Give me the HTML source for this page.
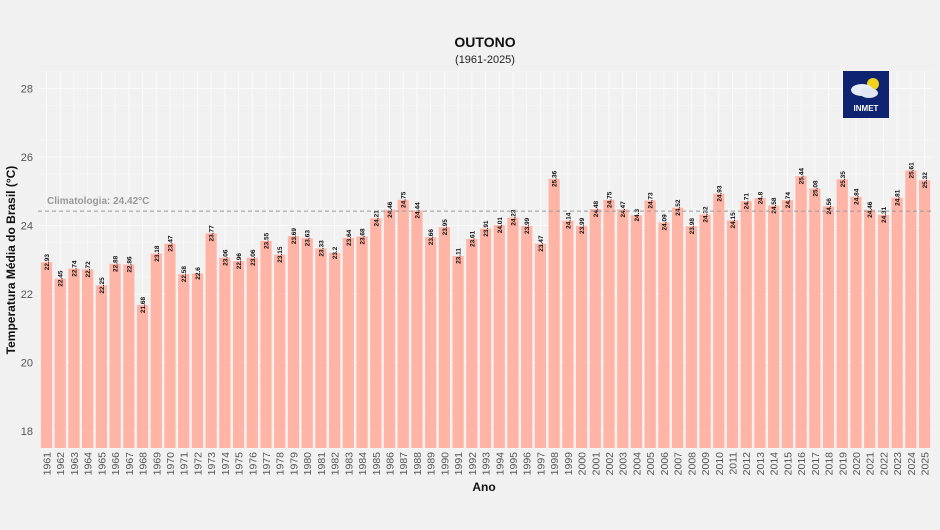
<!DOCTYPE html>
<html><head><meta charset="utf-8"><style>
html,body{margin:0;padding:0;background:#f1f1f1;}
svg{display:block;font-family:"Liberation Sans",sans-serif;}
</style></head><body>
<svg id="c" width="940" height="530" viewBox="0 0 940 530" xmlns="http://www.w3.org/2000/svg">
<rect width="940" height="530" fill="#f1f1f1"/>
<text x="485" y="47" text-anchor="middle" font-size="14" font-weight="bold" fill="#111">OUTONO</text>
<text x="485" y="63" text-anchor="middle" font-size="11" fill="#222">(1961-2025)</text>
<text x="484" y="491" text-anchor="middle" font-size="12" font-weight="bold" fill="#111">Ano</text>
<text transform="translate(15,260) rotate(-90)" text-anchor="middle" font-size="12" font-weight="bold" fill="#111">Temperatura Média do Brasil (°C)</text>
<g id="g"></g>
<rect x="843" y="71" width="46" height="47" fill="#0f2470"/>
<circle cx="873" cy="84" r="6" fill="#f4d21c"/>
<ellipse cx="862" cy="90" rx="11" ry="6" fill="#e8eef8"/>
<ellipse cx="869" cy="93" rx="9" ry="5" fill="#dfe7f4"/>
<text x="866" y="111" text-anchor="middle" font-size="8" font-weight="bold" fill="#fff">INMET</text>
</svg>
<script>
var v=[22.93,22.45,22.74,22.72,22.25,22.88,22.86,21.68,23.18,23.47,22.58,22.6,23.77,23.06,22.96,23.06,23.55,23.15,23.69,23.63,23.33,23.2,23.64,23.68,24.21,24.46,24.75,24.44,23.66,23.95,23.11,23.61,23.91,24.01,24.23,23.99,23.47,25.36,24.14,23.99,24.48,24.75,24.47,24.3,24.73,24.09,24.52,23.98,24.32,24.93,24.15,24.71,24.8,24.58,24.74,25.44,25.08,24.56,25.35,24.84,24.46,24.31,24.81,25.61,25.32];
function Y(t){return 294-(t-22)*34.25;}
var s='';
for(var t=17.5;t<=28.5;t+=1){var y=Y(t);s+='<line x1="38" x2="932" y1="'+y+'" y2="'+y+'" stroke="#f7f7f7" stroke-width="0.6"/>';}
for(var t=18;t<=28;t+=2){var y=Y(t);s+='<line x1="38" x2="932" y1="'+y+'" y2="'+y+'" stroke="#fafafa" stroke-width="1.1"/>';s+='<text x="33" y="'+(y+4)+'" text-anchor="end" font-size="11" fill="#555">'+t+'</text>';}
for(var i=0;i<v.length;i++){var x=46.5+i*13.72;s+='<line x1="'+x+'" x2="'+x+'" y1="72" y2="448" stroke="#fafafa" stroke-width="1"/>';}
for(var i=0;i<v.length;i++){var x=46.5+i*13.72,y=Y(v[i]);
s+='<rect x="'+(x-5.6)+'" y="'+y+'" width="11.2" height="'+(448-y)+'" fill="#ffb4a6"/>';
var lab=String(v[i]);
s+='<text transform="translate('+(x+2.5)+','+y+') rotate(-90)" text-anchor="middle" font-size="6.5" font-weight="bold" fill="#111">'+lab+'</text>';
s+='<text transform="translate('+(x+4)+',452) rotate(-90)" text-anchor="end" font-size="10.5" fill="#555">'+(1961+i)+'</text>';}
var cy=Y(24.42);
s+='<line x1="38" x2="932" y1="'+cy+'" y2="'+cy+'" stroke="#999" stroke-width="1" stroke-dasharray="4,3"/>';
s+='<text x="47" y="'+(cy-7)+'" font-size="10" font-weight="bold" fill="#999">Climatologia: 24.42°C</text>';
document.getElementById('g').innerHTML=s;
</script>
</body></html>
